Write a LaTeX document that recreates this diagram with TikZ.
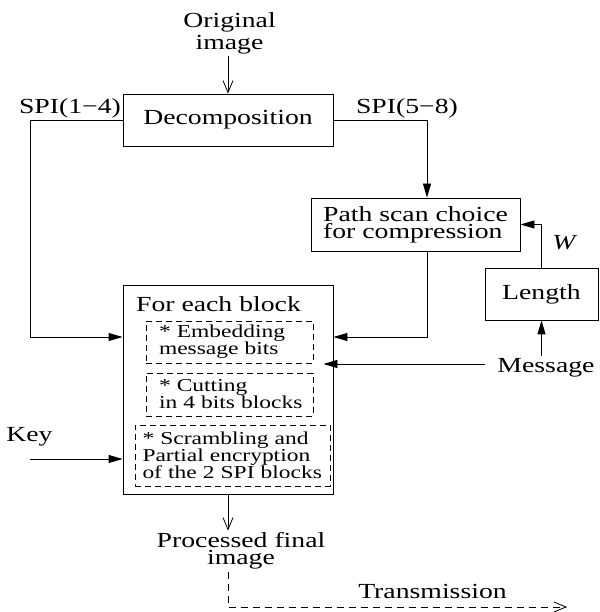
\documentclass[tikz,border=0pt]{standalone}
\usepackage{fontspec}
\setmainfont{Liberation Serif}[FakeStretch=1.29]
\usepackage{tikz}
\usetikzlibrary{positioning}
\usetikzlibrary{arrows.meta}
\newcommand{\figfont}{\fontsize{21.5}{17}\selectfont\lineskiplimit=-20pt}
\newcommand{\subfont}{\fontsize{18.2}{17}\selectfont\lineskiplimit=-20pt}
\tikzstyle{block} = [draw, line width=0.8pt, inner sep=0pt, font=\figfont]
\tikzstyle{subblock} = [draw, dash pattern=on 6pt off 4pt, line width=0.8pt, inner sep=0pt, align=left, font=\subfont]
\tikzstyle{txt} = [draw=none, inner sep=2pt, align=center, font=\figfont]
\tikzstyle{flow} = [line width=0.8pt, -{Triangle[length=14pt,width=8pt]}]
\tikzstyle{openflow} = [line width=0.8pt, -{Straight Barb[length=12pt,width=10pt]}]

\begin{document}
\begin{tikzpicture}[x=1pt, y=1pt, node distance=100pt]
                        \useasboundingbox (0,0) rectangle (599,612);
                        \node[block, minimum width=210pt, minimum height=52pt](dec) at (228,492) {Decomposition};
                        \node[txt, above of=dec, xshift=1.5pt, node distance=86.5pt, font=\fontsize{21.5}{22}\selectfont](orig) {Original\\image};
                        \node[block, align=left, minimum width=209pt, minimum height=53pt, below of=dec, xshift=187.5pt, node distance=104.5pt](path) {Path scan choice\\for compression};
                        \node[block, minimum width=113pt, minimum height=52pt, below of=path, xshift=126pt, node distance=69.5pt](len) {Length};
                        \node[block, minimum width=210pt, minimum height=209pt, below of=dec, node distance=269.5pt](blk) {};
                        \node[subblock, text width=141pt, minimum width=167pt, minimum height=42pt, above of=blk, xshift=1.5pt, node distance=47.5pt](emb) {* Embedding\\message bits};
                        \node[subblock, text width=141pt, minimum width=167pt, minimum height=43pt, below of=emb, node distance=52.5pt](cut) {* Cutting\\in~4~bits~blocks};
                        \node[subblock, text width=180pt, minimum width=195pt, minimum height=61pt, below of=cut, xshift=3pt, node distance=61pt](scr) {* Scrambling and\\Partial encryption\\of the 2 SPI blocks};
                        \node[txt, above of=emb, xshift=-11pt, node distance=37.4pt](each) {For each block};
                        \node[txt, below of=blk, xshift=13pt, node distance=161.7pt](proc) {Processed final\\image};

                        \node[txt](spil) at (70,504) {SPI(1−4)};
                        \node[txt](spir) at (407,504) {SPI(5−8)};
                        \node[txt](w) at (565,369) {\textit{W}};
                        \node[txt](msg) at (546,244) {Message};
                        \node[txt](key) at (29.5,175) {Key};
                        \node[txt](trans) at (432.5,20.4) {Transmission};
                        \coordinate[below=22pt of key.center](keyin);
                        \coordinate(txend) at (567,5);

                        \draw[openflow](orig.south -| dec.north) -- (dec.north);
                        \draw[flow](dec.west) -- ++(-92pt,0) |- ([yshift=52.5pt]blk.west);
                        \draw[flow](dec.east) -| ([xshift=11.5pt]path.north);
                        \draw[flow]([xshift=11.5pt]path.south) |- ([yshift=52.5pt]blk.east);
                        \draw[flow](len.north) |- (path.east);
                        \draw[flow](msg.north -| len.south) -- (len.south);
                        \draw[flow]([shift={(-10pt,4pt)}]msg.west) -- ([shift={(-10pt,4pt)}]msg.west -| blk.east);
                        \draw[flow](keyin) -- (keyin -| blk.west);
                        \draw[openflow](blk.south) -- (blk.south |- proc.north);
                        \draw[openflow, dash pattern=on 7pt off 5pt](blk.south |- proc.south) |- (txend);
                    \end{tikzpicture}
\end{document}
